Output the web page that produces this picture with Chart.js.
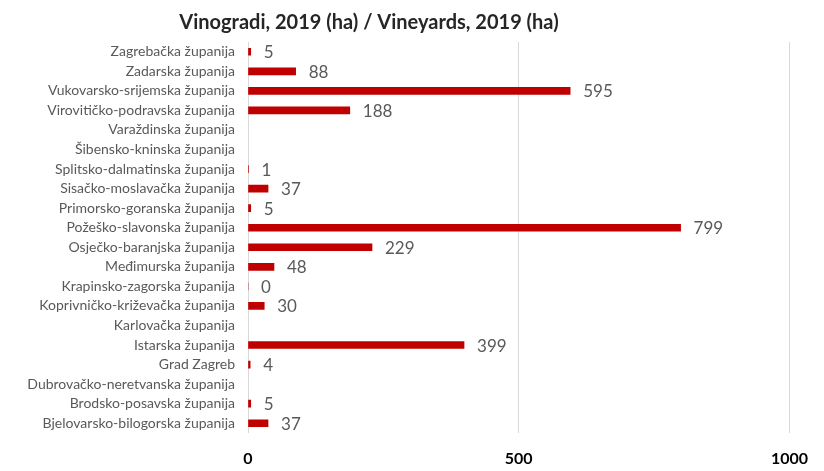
<!DOCTYPE html>
<html>
<head>
<meta charset="utf-8">
<script src="https://cdn.jsdelivr.net/npm/chart.js@4/dist/chart.umd.min.js"></script>
<style>
  html, body { margin: 0; padding: 0; background: #fff; }
  #wrap { width: 824px; height: 471px; }
</style>
</head>
<body>
<div id="wrap"><canvas id="myChart"></canvas></div>
<script>
// counties, top to bottom as in the picture
const counties = [
  'Zagrebačka županija',
  'Zadarska županija',
  'Vukovarsko-srijemska županija',
  'Virovitičko-podravska županija',
  'Varaždinska županija',
  'Šibensko-kninska županija',
  'Splitsko-dalmatinska županija',
  'Sisačko-moslavačka županija',
  'Primorsko-goranska županija',
  'Požeško-slavonska županija',
  'Osječko-baranjska županija',
  'Međimurska županija',
  'Krapinsko-zagorska županija',
  'Koprivničko-križevačka županija',
  'Karlovačka županija',
  'Istarska županija',
  'Grad Zagreb',
  'Dubrovačko-neretvanska županija',
  'Brodsko-posavska županija',
  'Bjelovarsko-bilogorska županija'
];

// vineyards in ha (null = no value shown)
const vineyards = [5, 88, 595, 188, null, null, 1, 37, 5, 799, 229, 48, 0, 30, null, 399, 4, null, 5, 37];

const titleText = 'Vinogradi, 2019 (ha) / Vineyards, 2019 (ha)';
const xTicks = [0, 500, 1000];

const FONT = 'Lato, "Open Sans", sans-serif';

// value labels next to the bars
const valueLabels = {
  id: 'valueLabels',
  afterDatasetsDraw(chart) {
    const c = chart.ctx;
    const meta = chart.getDatasetMeta(0);
    c.save();
    c.font = '17px ' + FONT;
    c.fillStyle = '#595959';
    c.textBaseline = 'middle';
    c.textAlign = 'left';
    meta.data.forEach((bar, i) => {
      const v = vineyards[i];
      if (v === null) return;
      c.fillText(String(v), bar.x + 13, bar.y + 1);
    });
    c.restore();
  }
};

// title, placed left of centre like the original
const titleDraw = {
  id: 'titleDraw',
  afterDraw(chart) {
    const c = chart.ctx;
    c.save();
    c.font = 'bold 20px ' + FONT;
    c.fillStyle = '#262626';
    c.textAlign = 'center';
    c.textBaseline = 'middle';
    c.fillText(titleText, 369, 23);
    c.restore();
  }
};

const ctx = document.getElementById('myChart').getContext('2d');

const data = {
  labels: counties,
  datasets: [{
    label: titleText,
    data: vineyards,
    backgroundColor: '#C00000',
    borderWidth: 0,
    barThickness: 7
  }]
};

const config = {
  type: 'bar',
  data: data,
  plugins: [valueLabels, titleDraw],
  options: {
    indexAxis: 'y',
    responsive: true,
    maintainAspectRatio: false,
    animation: false,
    layout: { padding: { top: 42, right: 26, left: 0, bottom: 0 } },
    plugins: {
      legend: { display: false },
      title: { display: false },
      tooltip: { enabled: false }
    },
    scales: {
      x: {
        min: 0,
        max: 1000,
        afterBuildTicks(axis) {
          axis.ticks = xTicks.map(v => ({ value: v }));
        },
        afterFit(axis) { axis.height = 38; },
        grid: { color: '#d9d9d9', lineWidth: 1, drawTicks: false },
        border: { display: false },
        ticks: {
          padding: 16,
          color: '#000',
          font: { family: FONT, size: 16, weight: 'bold' },
          callback: (v) => String(v)
        }
      },
      y: {
        grid: { display: false, drawTicks: false },
        border: { display: false },
        afterFit(axis) { axis.width = 248; },
        ticks: {
          padding: 13,
          autoSkip: false,
          color: '#595959',
          font: { family: FONT, size: 14 }
        }
      }
    }
  }
};

const myChart = new Chart(ctx, config);
</script>
</body>
</html>
